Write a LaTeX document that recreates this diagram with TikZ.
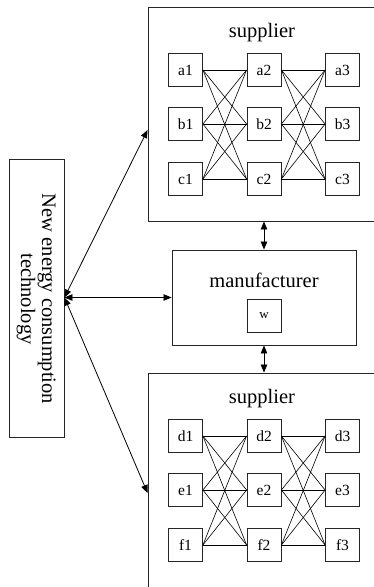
\documentclass[tikz,border=0pt]{standalone}
\usepackage{fontspec}
\setmainfont{Liberation Serif}
\usetikzlibrary{arrows.meta}
\begin{document}
\begin{tikzpicture}[x=1pt,y=-1pt,
  frame/.style={draw=black!85,line width=0.9pt,inner sep=0pt,rectangle},
  cell/.style={draw=black!85,line width=0.8pt,minimum width=34pt,minimum height=33pt,inner sep=0pt,font=\fontsize{15.5}{16}\selectfont},
  link/.style={line width=0.6pt},
  biarrow/.style={line width=0.8pt,{Triangle[length=8pt,width=6.5pt]}-{Triangle[length=8pt,width=6.5pt]}},
  title/.style={font=\fontsize{20.5}{22}\selectfont,inner sep=0pt},
  sidetext/.style={rotate=-90,anchor=base,font=\fontsize{20.5}{22}\selectfont,inner sep=0pt}]
\useasboundingbox (0,0) rectangle (374,587);
\clip (0,0) rectangle (374,587);

% containers (the supplier frames run off the page edge)
\node[frame,minimum width=242pt,minimum height=214pt] (supA) at (269,114) {};
\node[frame,minimum width=242pt,minimum height=260pt] (supB) at (269,503) {};
\node[frame,minimum width=184pt,minimum height=95pt] (manu) at (264,297.5) {};
\node[frame,minimum width=55pt,minimum height=278pt] (tech) at (36.5,298) {};

\node[title] at (262,33) {supplier};
\node[title] at (262,399) {supplier};
\node[title] at (264,280) {manufacturer};
\node[sidetext] (techA) at (42,299) {New energy consumption};
\node[sidetext] (techB) at (21,299) {technology};

% upper supplier network
\foreach \r/\y in {a/70,b/124,c/179}{
  \node[cell] (\r1) at (185.5,\y) {\r1};
  \node[cell] (\r2) at (264,\y) {\r2};
  \node[cell] (\r3) at (342.5,\y) {\r3};
}
% lower supplier network
\foreach \r/\y in {d/436,e/490,f/545}{
  \node[cell] (\r1) at (185.5,\y) {\r1};
  \node[cell] (\r2) at (264,\y) {\r2};
  \node[cell] (\r3) at (342.5,\y) {\r3};
}
\node[cell,font=\fontsize{13}{14}\selectfont] (w) at (264,316) {w};

\foreach \p in {a,b,c}{
  \foreach \q in {a,b,c}{
    \draw[link] (\p1.east) -- (\q2.west);
    \draw[link] (\p2.east) -- (\q3.west);
  }
}
\foreach \p in {d,e,f}{
  \foreach \q in {d,e,f}{
    \draw[link] (\p1.east) -- (\q2.west);
    \draw[link] (\p2.east) -- (\q3.west);
  }
}

% links between the blocks
\coordinate (hub) at (tech.east |- manu.west);
\coordinate (inA) at (supA.west |- 0,130);
\coordinate (inB) at (supB.west |- 0,493);
\draw[biarrow] (hub) -- (inA);
\draw[biarrow] (hub) -- (manu.west);
\draw[biarrow] (hub) -- (inB);
\draw[biarrow] (supA.south -| w.north) -- (manu.north -| w.north);
\draw[biarrow] (manu.south -| w.north) -- (supB.north -| w.north);
\end{tikzpicture}
\end{document}
